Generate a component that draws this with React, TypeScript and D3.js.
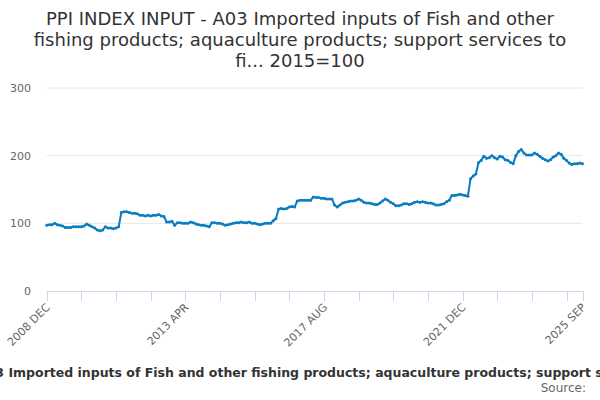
import React from "react";
import * as d3 from "d3";

const titleLines = [
  "PPI INDEX INPUT - A03 Imported inputs of Fish and other",
  "fishing products; aquaculture products; support services to",
  "fi... 2015=100",
];
const seriesName =
  "A03 Imported inputs of Fish and other fishing products; aquaculture products; support services to fishing";
const sourceText = "Source:";

const startYear = 2008;
const startMonth = 11; // December (0-based)
const monthNames = ["JAN", "FEB", "MAR", "APR", "MAY", "JUN", "JUL", "AUG", "SEP", "OCT", "NOV", "DEC"];

const values: number[] = [
  97, 98, 98, 100, 98, 97, 96, 94, 94, 94, 95, 95,
  95, 95, 96, 99, 97, 95, 93, 90, 89, 90, 95, 93,
  93, 92, 93, 95, 116, 117, 117, 116, 115, 115, 114, 112,
  112, 111, 112, 111, 112, 112, 113, 111, 110, 102, 102, 103,
  97, 101, 101, 100, 100, 100, 102, 101, 99, 98, 97, 97,
  96, 95, 101, 101, 100, 100, 99, 97, 98, 99, 100, 101,
  101, 102, 101, 101, 102, 100, 100, 99, 98, 99, 100, 100,
  100, 104, 107, 121, 122, 121, 122, 124, 125, 124, 133, 134,
  134, 134, 134, 134, 139, 138, 138, 137, 137, 136, 136, 136,
  127, 124, 127, 130, 131, 132, 133, 133, 134, 136, 134, 131,
  130, 130, 129, 128, 128, 130, 133, 136, 134, 131, 129, 126,
  126, 127, 129, 129, 128, 129, 131, 132, 131, 132, 131, 130,
  130, 129, 127, 127, 128, 129, 132, 134, 141, 141, 142, 143,
  142, 141, 140, 166, 170, 173, 190, 193, 199, 196, 197, 200,
  197, 195, 199, 198, 194, 193, 190, 188, 200, 206, 209, 204,
  201, 201, 201, 204, 202, 199, 196, 194, 192, 194, 198, 200,
  204, 202, 196, 193, 189, 187, 188, 188, 189, 188,
];

const yTicks = [0, 100, 200, 300];
const tickEvery = 13;
const labelEvery = 52;

function labelFor(i: number) {
  const m = startMonth + i;
  const y = startYear + Math.floor(m / 12);
  return `${y} ${monthNames[m % 12]}`;
}

export default function App() {
  const W = 600, H = 400;
  const left = 46.7, right = 582.5, top = 88, bottom = 291;
  const n = values.length;
  const x = d3.scaleLinear().domain([0, n - 1]).range([left, right]);
  const y = d3.scaleLinear().domain([0, 300]).range([bottom, top]);
  const line = d3.line<number>().x((_, i) => x(i)).y((d) => y(d));

  const ticks: number[] = [];
  for (let i = 0; i < n; i += tickEvery) ticks.push(i);
  if (ticks[ticks.length - 1] !== n - 1) ticks.push(n - 1);
  const labels: number[] = [];
  for (let i = 0; i < n; i += labelEvery) labels.push(i);
  labels.push(n - 1);

  const color = "#0a7dc2";
  return (
    <svg width={W} height={H} style={{ position: "absolute", left: 0, top: 0 }}
      fontFamily="'DejaVu Sans', sans-serif">
      <rect width={W} height={H} fill="#fff" />
      {titleLines.map((t, i) => (
        <text key={i} x={300} y={24.5 + i * 21} textAnchor="middle" fontSize={18} fill="#333">{t}</text>
      ))}
      {yTicks.map((t) => (
        <g key={t}>
          {t > 0 && <line x1={left} x2={right} y1={y(t)} y2={y(t)} stroke="#e6e6e6" strokeWidth={1} />}
          <text x={31} y={y(t) + 4} textAnchor="end" fontSize={11} fill="#666">{t}</text>
        </g>
      ))}
      <line x1={left} x2={right} y1={bottom + 0.5} y2={bottom + 0.5} stroke="#ccd6eb" strokeWidth={1} />
      {ticks.map((i) => (
        <line key={i} x1={Math.round(x(i)) + 0.5} x2={Math.round(x(i)) + 0.5} y1={bottom} y2={bottom + 10} stroke="#ccd6eb" strokeWidth={1} />
      ))}
      {labels.map((i) => (
        <text key={i} transform={`translate(${x(i) + 4},${bottom + 17}) rotate(-45)`} textAnchor="end" fontSize={11} fill="#666">
          {labelFor(i)}
        </text>
      ))}
      <path d={line(values) || ""} fill="none" stroke={color} strokeWidth={2} strokeLinejoin="round" />
      {values.map((v, i) => (
        <circle key={i} cx={x(i)} cy={y(v)} r={1.5} fill={color} />
      ))}
      <text x={-23} y={377} fontSize={12.5} fontWeight="bold" fill="#333">{seriesName}</text>
      <text x={586} y={392} textAnchor="end" fontSize={12} fill="#666">{sourceText}</text>
    </svg>
  );
}
